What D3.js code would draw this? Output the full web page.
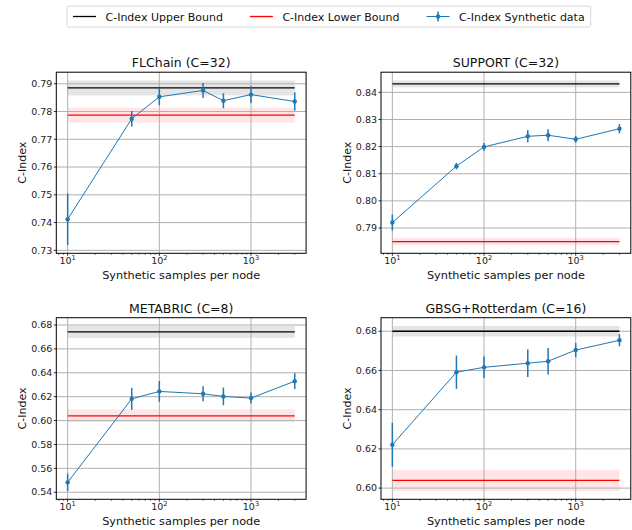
<!DOCTYPE html>
<html>
<head>
<meta charset="utf-8">
<script src="https://cdn.jsdelivr.net/npm/d3@7"></script>
<style>
  body { margin: 0; background: #fff; }
  svg { display: block; font-family: "DejaVu Sans", sans-serif; }
</style>
</head>
<body>
<div id="chart"></div>
<script>
// samples per node on the x axis
const samples = [10, 50, 100, 300, 500, 1000, 3000];
const xTickValues = [10, 100, 1000];
const xTickExps = ["1", "2", "3"];

// C-Index of the synthetic data, mean and error per panel
const flchainMean = [0.7412, 0.7774, 0.7853, 0.7876, 0.7839, 0.7861, 0.7836];
const flchainErr = [0.0093, 0.0028, 0.0030, 0.0027, 0.0027, 0.0030, 0.0033];
const supportMean = [0.7920, 0.8128, 0.8199, 0.8238, 0.8242, 0.8227, 0.8266];
const supportErr = [0.0029, 0.0012, 0.0014, 0.0023, 0.0022, 0.0013, 0.0017];
const metabricMean = [0.5483, 0.6182, 0.6244, 0.6224, 0.6202, 0.6188, 0.6330];
const metabricErr = [0.0073, 0.0092, 0.0087, 0.0063, 0.0074, 0.0046, 0.0067];
const gbsgMean = [0.6221, 0.6591, 0.6616, 0.6637, 0.6647, 0.6704, 0.6754];
const gbsgErr = [0.0112, 0.0085, 0.0055, 0.0070, 0.0067, 0.0036, 0.0031];

// bounds: [value, spread] for upper and lower
const upperBounds = [[0.7885, 0.0027], [0.8431, 0.0013], [0.6742, 0.0050], [0.6800, 0.0027]];
const lowerBounds = [[0.7787, 0.0027], [0.7850, 0.0013], [0.6040, 0.0054], [0.6039, 0.0054]];

const titles = ["FLChain (C=32)", "SUPPORT (C=32)", "METABRIC (C=8)", "GBSG+Rotterdam (C=16)"];
const yTicks = [
  [0.73, 0.74, 0.75, 0.76, 0.77, 0.78, 0.79],
  [0.79, 0.80, 0.81, 0.82, 0.83, 0.84],
  [0.54, 0.56, 0.58, 0.60, 0.62, 0.64, 0.66, 0.68],
  [0.60, 0.62, 0.64, 0.66, 0.68]
];
const legendLabels = ["C-Index Upper Bound", "C-Index Lower Bound", "C-Index Synthetic data"];

const W = 632, H = 530;
const BLUE = "#1f77b4";
const svg = d3.select("#chart").append("svg").attr("width", W).attr("height", H);

const panels = [
  { mean: flchainMean, err: flchainErr, x0: 56.3, x1: 306.1, y0: 72.2, y1: 253.3 },
  { mean: supportMean, err: supportErr, x0: 381, x1: 630.8, y0: 72.2, y1: 253.3 },
  { mean: metabricMean, err: metabricErr, x0: 56.3, x1: 306.1, y0: 317.7, y1: 499.3 },
  { mean: gbsgMean, err: gbsgErr, x0: 381, x1: 630.8, y0: 317.7, y1: 499.3 }
];

function drawPanel(p, i) {
  const up = upperBounds[i], lo = lowerBounds[i];
  // matplotlib style 5% margins
  const lx = [Math.log10(d3.min(samples)), Math.log10(d3.max(samples))];
  const mx = (lx[1] - lx[0]) * 0.05;
  const x = d3.scaleLog().domain([10 ** (lx[0] - mx), 10 ** (lx[1] + mx)]).range([p.x0, p.x1]);
  const lows = p.mean.map((m, j) => m - p.err[j]).concat([up[0] - up[1], lo[0] - lo[1]]);
  const highs = p.mean.map((m, j) => m + p.err[j]).concat([up[0] + up[1], lo[0] + lo[1]]);
  const ymin = d3.min(lows), ymax = d3.max(highs), my = (ymax - ymin) * 0.05;
  const y = d3.scaleLinear().domain([ymin - my, ymax + my]).range([p.y1, p.y0]);

  const g = svg.append("g");
  const xa = d3.min(samples), xb = d3.max(samples);

  // bands
  g.append("rect").attr("x", x(xa)).attr("width", x(xb) - x(xa))
    .attr("y", y(up[0] + up[1])).attr("height", y(up[0] - up[1]) - y(up[0] + up[1]))
    .attr("fill", "#000").attr("fill-opacity", 0.1);
  g.append("rect").attr("x", x(xa)).attr("width", x(xb) - x(xa))
    .attr("y", y(lo[0] + lo[1])).attr("height", y(lo[0] - lo[1]) - y(lo[0] + lo[1]))
    .attr("fill", "#ff0000").attr("fill-opacity", 0.1);

  // grid
  g.selectAll(".gx").data(xTickValues).join("line")
    .attr("x1", d => x(d)).attr("x2", d => x(d)).attr("y1", p.y0).attr("y2", p.y1)
    .attr("stroke", "#b0b0b0").attr("stroke-width", 1);
  g.selectAll(".gy").data(yTicks[i]).join("line")
    .attr("x1", p.x0).attr("x2", p.x1).attr("y1", d => y(d)).attr("y2", d => y(d))
    .attr("stroke", "#b0b0b0").attr("stroke-width", 1);

  // bound lines
  g.append("line").attr("x1", x(xa)).attr("x2", x(xb)).attr("y1", y(up[0])).attr("y2", y(up[0]))
    .attr("stroke", "#000").attr("stroke-width", 1.3);
  g.append("line").attr("x1", x(xa)).attr("x2", x(xb)).attr("y1", y(lo[0])).attr("y2", y(lo[0]))
    .attr("stroke", "#ff0000").attr("stroke-width", 1.3);

  // synthetic data
  const pts = samples.map((s, j) => ({ s: s, m: p.mean[j], e: p.err[j] }));
  g.append("path").datum(pts)
    .attr("d", d3.line().x(d => x(d.s)).y(d => y(d.m)))
    .attr("fill", "none").attr("stroke", BLUE).attr("stroke-width", 1);
  g.selectAll(".eb").data(pts).join("line")
    .attr("x1", d => x(d.s)).attr("x2", d => x(d.s))
    .attr("y1", d => y(d.m - d.e)).attr("y2", d => y(d.m + d.e))
    .attr("stroke", BLUE).attr("stroke-width", 1.5);
  g.selectAll(".mk").data(pts).join("circle")
    .attr("cx", d => x(d.s)).attr("cy", d => y(d.m)).attr("r", 2.2).attr("fill", BLUE);

  // frame
  g.append("rect").attr("x", p.x0).attr("y", p.y0).attr("width", p.x1 - p.x0).attr("height", p.y1 - p.y0)
    .attr("fill", "none").attr("stroke", "#000").attr("stroke-width", 1);

  // y ticks
  g.selectAll(".ty").data(yTicks[i]).join("line")
    .attr("x1", p.x0 - 2.5).attr("x2", p.x0).attr("y1", d => y(d)).attr("y2", d => y(d))
    .attr("stroke", "#000").attr("stroke-width", 0.8);
  g.selectAll(".ly").data(yTicks[i]).join("text")
    .attr("x", p.x0 - 4).attr("y", d => y(d)).attr("dy", "0.34em")
    .attr("text-anchor", "end").attr("font-size", 9.5).attr("fill", "#222")
    .text(d => d.toFixed(2));

  // x ticks
  const minor = [];
  [1, 10, 100, 1000].forEach(dec => d3.range(2, 10).forEach(k => {
    const v = dec * k;
    if (v > x.domain()[0] && v < x.domain()[1]) minor.push(v);
  }));
  g.selectAll(".mx").data(minor).join("line")
    .attr("x1", d => x(d)).attr("x2", d => x(d)).attr("y1", p.y1).attr("y2", p.y1 + 1.5)
    .attr("stroke", "#000").attr("stroke-width", 0.6);
  g.selectAll(".tx").data(xTickValues).join("line")
    .attr("x1", d => x(d)).attr("x2", d => x(d)).attr("y1", p.y1).attr("y2", p.y1 + 2.5)
    .attr("stroke", "#000").attr("stroke-width", 0.8);
  const lx2 = g.selectAll(".lx").data(xTickValues).join("text")
    .attr("x", d => x(d)).attr("y", p.y1 + 11).attr("text-anchor", "middle")
    .attr("font-size", 9.5).attr("fill", "#222");
  lx2.append("tspan").text("10");
  lx2.append("tspan").attr("dy", -4).attr("font-size", 6.7).text((d, j) => xTickExps[j]);

  // labels
  g.append("text").attr("x", (p.x0 + p.x1) / 2).attr("y", p.y1 + 26).attr("text-anchor", "middle")
    .attr("font-size", 11.3).attr("fill", "#111").text("Synthetic samples per node");
  g.append("text").attr("transform", `translate(${p.x0 - 30.5},${(p.y0 + p.y1) / 2}) rotate(-90)`)
    .attr("text-anchor", "middle").attr("font-size", 11).attr("fill", "#111").text("C-Index");
  g.append("text").attr("x", (p.x0 + p.x1) / 2).attr("y", p.y0 - 5).attr("text-anchor", "middle")
    .attr("font-size", 12.5).attr("fill", "#111").text(titles[i]);
}

panels.forEach(drawPanel);

// legend
const lg = svg.append("g");
const box = lg.append("rect").attr("y", 6).attr("height", 21).attr("rx", 2)
  .attr("fill", "#fff").attr("stroke", "#d8d8d8").attr("stroke-width", 1);
const legendColors = ["#000", "#ff0000", BLUE];
let cx = 73;
legendLabels.forEach((lab, k) => {
  lg.append("line").attr("x1", cx).attr("x2", cx + 23).attr("y1", 16.5).attr("y2", 16.5)
    .attr("stroke", legendColors[k]).attr("stroke-width", k === 2 ? 1 : 1.3);
  if (k === 2) {
    lg.append("line").attr("x1", cx + 11.5).attr("x2", cx + 11.5).attr("y1", 11.5).attr("y2", 21.5)
      .attr("stroke", BLUE).attr("stroke-width", 1.5);
    lg.append("circle").attr("cx", cx + 11.5).attr("cy", 16.5).attr("r", 2.2).attr("fill", BLUE);
  }
  const t = lg.append("text").attr("x", cx + 32.5).attr("y", 20.5).attr("font-size", 11)
    .attr("fill", "#111").text(lab);
  cx += 32.5 + t.node().getComputedTextLength() + 27;
});
box.attr("x", 67).attr("width", cx - 27 + 6 - 67);
</script>
</body>
</html>
